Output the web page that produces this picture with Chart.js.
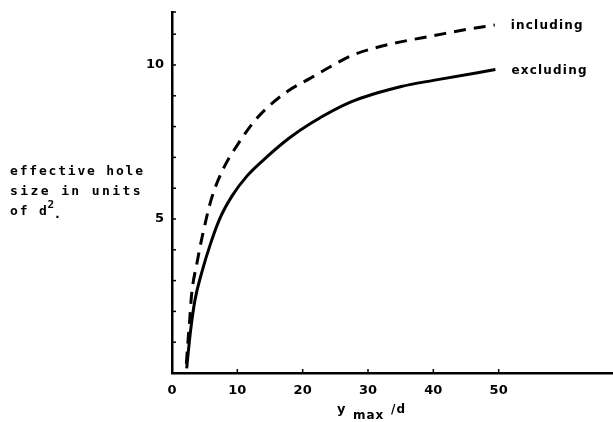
<!DOCTYPE html>
<html lang="en">
<head>
    <meta charset="UTF-8">
    <title>effective hole size</title>
    <script src="https://cdn.jsdelivr.net/npm/chart.js"></script>
    <style>
        html, body { margin: 0; padding: 0; background: #fff; }
        .wrap { position: relative; width: 613px; height: 422px; }
    </style>
</head>
<body>
    <div class="wrap"><canvas id="holeChart" width="613" height="422"></canvas></div>
    <script>
        // values
        const excludingX = [2.25, 2.5, 2.8, 3.5, 4.6, 5.9, 7.4, 9.2, 11.5, 14.6, 17.9, 21.2, 27.4, 35.1, 40.0, 49.5];
        const excludingY = [0.15, 0.7, 1.3, 2.35, 3.3, 4.2, 5.05, 5.75, 6.4, 7.03, 7.62, 8.1, 8.8, 9.3, 9.5, 9.85];
        const includingX = [2.2, 2.4, 2.7, 3.0, 3.8, 4.8, 6.1, 7.9, 10.0, 12.5, 14.5, 17.7, 21.0, 24.3, 27.4, 31.0, 35.0, 40.0, 45.0, 49.4];
        const includingY = [0.3, 0.9, 1.7, 2.55, 3.55, 4.6, 5.7, 6.65, 7.4, 8.15, 8.6, 9.15, 9.55, 9.95, 10.3, 10.55, 10.75, 10.95, 11.15, 11.3];
        const xTickLabels = [0, 10, 20, 30, 40, 50];
        const yTickLabels = [5, 10];
        const seriesNames = ['including', 'excluding'];

        const pts = (xs, ys) => xs.map((x, i) => ({ x: x, y: ys[i] }));
        const FAMILY = '"DejaVu Sans", sans-serif';
        const MONO = '"DejaVu Sans Mono", monospace';

        // inward tick marks, curve labels and the free-standing texts
        const decor = {
            id: 'decor',
            afterDraw(chart) {
                const ctx = chart.ctx;
                const xs = chart.scales.x, ys = chart.scales.y;
                const area = chart.chartArea;
                ctx.save();
                ctx.strokeStyle = '#000';
                ctx.lineWidth = 1.5;
                ys.ticks.forEach(t => {
                    if (t.value <= 0) return;
                    const py = ys.getPixelForValue(t.value);
                    ctx.beginPath();
                    ctx.moveTo(area.left, py);
                    ctx.lineTo(area.left + 4, py);
                    ctx.stroke();
                });
                xTickLabels.forEach(v => {
                    if (v <= 0) return;
                    const px = xs.getPixelForValue(v);
                    ctx.beginPath();
                    ctx.moveTo(px, area.bottom);
                    ctx.lineTo(px, area.bottom - 4);
                    ctx.stroke();
                });

                ctx.fillStyle = '#000';
                ctx.textBaseline = 'middle';
                ctx.textAlign = 'left';
                const spaced = ('letterSpacing' in ctx);

                // series labels next to curve ends
                ctx.font = 'bold 12px ' + FAMILY;
                if (spaced) ctx.letterSpacing = '1.2px';
                chart.data.datasets.forEach(ds => {
                    const last = ds.data[ds.data.length - 1];
                    ctx.fillText(ds.label, xs.getPixelForValue(last.x) + 16, ys.getPixelForValue(last.y) + 1);
                });

                // y axis description
                ctx.font = 'bold 13px ' + MONO;
                if (spaced) ctx.letterSpacing = '1.8px';
                ctx.fillText('effective hole', 10, 172);
                if (spaced) ctx.letterSpacing = '2.4px';
                ctx.fillText('size in units', 10, 192);
                if (spaced) ctx.letterSpacing = '1.8px';
                ctx.fillText('of d', 10, 212);
                let w = ctx.measureText('of d').width;
                ctx.font = 'bold 11px ' + MONO;
                ctx.fillText('2', 10 + w - 1, 205);
                ctx.font = 'bold 13px ' + MONO;
                ctx.fillText('.', 10 + w + 5, 215);

                // x axis title
                if (spaced) ctx.letterSpacing = '1px';
                ctx.font = 'bold 13px ' + FAMILY;
                ctx.fillText('y', 337, 410);
                ctx.font = 'bold 12px ' + FAMILY;
                ctx.fillText('max', 353, 416);
                ctx.fillText('/d', 391, 410);
                ctx.restore();
            }
        };

        new Chart(document.getElementById('holeChart'), {
            type: 'line',
            data: {
                datasets: [
                    {
                        label: seriesNames[0],
                        data: pts(includingX, includingY),
                        borderColor: '#000',
                        borderWidth: 3,
                        borderDash: [12, 8],
                        pointRadius: 0,
                        cubicInterpolationMode: 'monotone',
                        fill: false
                    },
                    {
                        label: seriesNames[1],
                        data: pts(excludingX, excludingY),
                        borderColor: '#000',
                        borderWidth: 3,
                        pointRadius: 0,
                        cubicInterpolationMode: 'monotone',
                        fill: false
                    }
                ]
            },
            options: {
                responsive: false,
                animation: false,
                layout: { padding: { top: 12, right: 0, left: 0, bottom: 0 } },
                plugins: { legend: { display: false }, tooltip: { enabled: false } },
                scales: {
                    x: {
                        type: 'linear',
                        min: 0,
                        max: 67.5,
                        border: { color: '#000', width: 2.5 },
                        grid: { display: false },
                        ticks: {
                            stepSize: 10,
                            autoSkip: false,
                            maxRotation: 0,
                            color: '#000',
                            font: { family: FAMILY, size: 13, weight: 'bold' },
                            padding: 2,
                            callback: v => xTickLabels.includes(v) ? String(v) : ''
                        },
                        afterFit: s => { s.height = 49; s.paddingRight = 0; s.paddingLeft = 0; }
                    },
                    y: {
                        min: 0,
                        max: 11.72,
                        border: { color: '#000', width: 2.5 },
                        grid: { display: false },
                        ticks: {
                            stepSize: 1,
                            autoSkip: false,
                            color: '#000',
                            font: { family: FAMILY, size: 13, weight: 'bold' },
                            padding: 0,
                            callback: v => yTickLabels.includes(v) ? String(v) : ''
                        },
                        afterFit: s => { s.width = 172; }
                    }
                }
            },
            plugins: [decor]
        });
    </script>
</body>
</html>
